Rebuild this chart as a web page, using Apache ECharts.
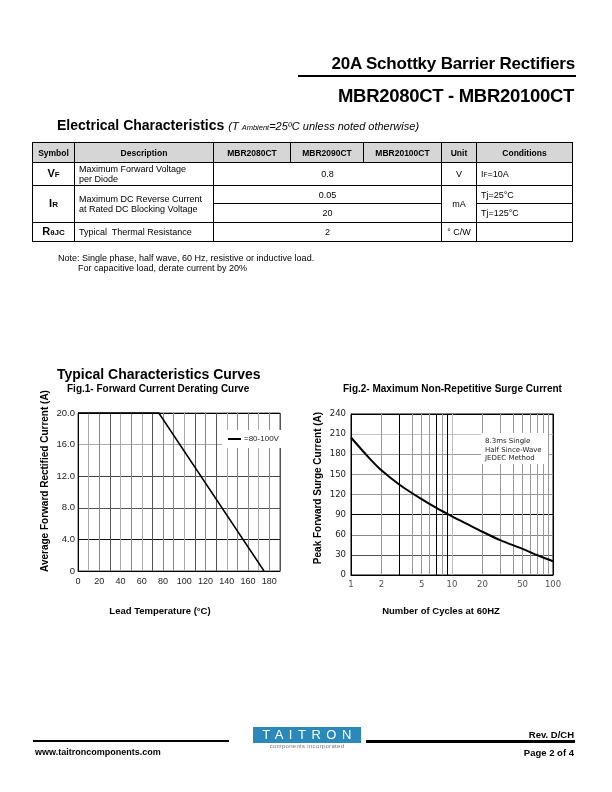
<!DOCTYPE html>
<html>
<head>
<meta charset="utf-8">
<script src="https://cdn.jsdelivr.net/npm/echarts@6/dist/echarts.min.js"></script>
<style>
  html,body{margin:0;padding:0;background:#fff;}
  #page{position:relative;width:612px;height:792px;overflow:hidden;font-family:"Liberation Sans",Arial,sans-serif;color:#000;}
  #chart{position:absolute;left:0;top:0;width:612px;height:792px;}
  .abs{position:absolute;white-space:nowrap;}
  .bar{position:absolute;background:#000;}
  table.ec{position:absolute;left:32px;top:142px;border-collapse:collapse;table-layout:fixed;width:540px;font-size:9px;}
  table.ec td{border:1px solid #000;padding:0 4px;line-height:10px;white-space:nowrap;overflow:hidden;}
  table.ec tr.h td{background:#d6d6d6;font-weight:bold;text-align:center;font-size:8.5px;}
  .c{text-align:center;}
  .sym{font-weight:bold;text-align:center;font-size:11px;}
  .sym small{font-size:8px;}
</style>
</head>
<body>
<div id="page">
  <div id="chart"></div>

  <!-- header -->
  <div class="abs" style="right:37px;top:54px;font-size:17px;font-weight:bold;letter-spacing:-0.2px;">20A Schottky Barrier Rectifiers</div>
  <div class="bar" style="left:298px;top:75px;width:278px;height:2px;"></div>
  <div class="abs" style="right:38px;top:85px;font-size:18.5px;font-weight:bold;letter-spacing:-0.3px;">MBR2080CT - MBR20100CT</div>

  <div class="abs" style="left:57px;top:117px;font-size:14px;font-weight:bold;">Electrical Characteristics <span style="font-size:11px;font-weight:normal;font-style:italic;">(T <span style="font-size:7.5px;">Ambient</span>=25ºC unless noted otherwise)</span></div>

  <table class="ec">
    <colgroup><col style="width:42px"><col style="width:139px"><col style="width:77px"><col style="width:73px"><col style="width:78px"><col style="width:35px"><col style="width:96px"></colgroup>
    <tr class="h" style="height:20px"><td>Symbol</td><td>Description</td><td>MBR2080CT</td><td>MBR2090CT</td><td>MBR20100CT</td><td>Unit</td><td>Conditions</td></tr>
    <tr style="height:23px"><td class="sym">V<small>F</small></td><td>Maximum Forward Voltage<br>per Diode</td><td colspan="3" class="c">0.8</td><td class="c">V</td><td>I<span style="font-size:6.5px">F</span>=10A</td></tr>
    <tr style="height:18px"><td class="sym" rowspan="2">I<small>R</small></td><td rowspan="2">Maximum DC Reverse Current<br>at Rated DC Blocking Voltage</td><td colspan="3" class="c">0.05</td><td class="c" rowspan="2">mA</td><td>Tj=25°C</td></tr>
    <tr style="height:19px"><td colspan="3" class="c">20</td><td>Tj=125°C</td></tr>
    <tr style="height:19px"><td class="sym">R<small>θJC</small></td><td>Typical&nbsp; Thermal Resistance</td><td colspan="3" class="c">2</td><td class="c">° C/W</td><td></td></tr>
  </table>

  <div class="abs" style="left:58px;top:253px;font-size:9px;">Note: Single phase, half wave, 60 Hz, resistive or inductive load.</div>
  <div class="abs" style="left:78px;top:263px;font-size:9px;">For capacitive load, derate current by 20%</div>

  <!-- footer -->
  <div class="bar" style="left:33px;top:740px;width:196px;height:2px;"></div>
  <div class="abs" style="left:253px;top:727px;width:108px;height:16px;background:#2a89b8;color:#fff;font-size:13px;letter-spacing:5.5px;text-align:center;line-height:16px;text-indent:5px;">TAITRON</div>
  <div class="abs" style="left:253px;top:743px;width:108px;text-align:center;font-size:6px;color:#777;letter-spacing:0.3px;">components incorporated</div>
  <div class="bar" style="left:366px;top:740px;width:209px;height:2.5px;"></div>
  <div class="abs" style="right:38px;top:729px;font-size:9.5px;font-weight:bold;">Rev. D/CH</div>
  <div class="abs" style="right:38px;top:747px;font-size:9.5px;font-weight:bold;">Page 2 of 4</div>
  <div class="abs" style="left:35px;top:747px;font-size:9px;font-weight:bold;">www.taitroncomponents.com</div>
</div>

<script>
// ---- Fig.1 data: Forward Current Derating Curve ----
const fig1Temp = [0, 76, 175];
const fig1Current = [20, 20, 0];
const fig1LegendName = '=80-100V';

// ---- Fig.2 data: Maximum Non-Repetitive Surge Current ----
const fig2Cycles = [1, 1.5, 2, 3, 5, 7, 10, 15, 20, 30, 50, 70, 100];
const fig2Surge = [205, 175, 156, 135, 113, 100, 87.5, 74, 64.5, 52, 39, 29.5, 20.5];
const fig2XTicks = [1, 2, 5, 10, 20, 50, 100];
const fig2MinorGrid = [2, 3, 4, 5, 6, 7, 8, 9, 20, 30, 40, 50, 60, 70, 80, 90];
const fig2DarkGrid = [3, 7, 9];

const narrow = '"Liberation Sans Narrow","Liberation Sans",Arial,sans-serif';
const sans = '"Liberation Sans",Arial,sans-serif';
const wide = '"DejaVu Sans",Verdana,sans-serif';

const chart = echarts.init(document.getElementById('chart'), null, {renderer: 'canvas'});

const fig1XColors = ['#000','#aaa','#888','#555','#aaa','#888','#aaa','#555','#888','#888','#aaa','#555','#888','#555','#aaa','#888','#888','#aaa','#888','#555'];

const option = {
  animation: false,
  backgroundColor: 'transparent',
  grid: [
    {left: 78, top: 413, width: 202, height: 158, show: true, borderColor: '#555', borderWidth: 1, backgroundColor: 'transparent'},
    {left: 351, top: 414, width: 202, height: 161, show: true, borderColor: '#000', borderWidth: 1, backgroundColor: 'transparent'}
  ],
  xAxis: [
    {
      type: 'value', gridIndex: 0, min: 0, max: 190, interval: 10,
      axisLine: {lineStyle: {color: '#000', width: 1}}, axisTick: {show: false},
      axisLabel: {margin: 6, fontFamily: narrow, fontSize: 9, color: '#222',
        formatter: v => (v % 20 === 0 && v <= 180) ? String(v) : ''},
      splitLine: {show: true, lineStyle: {color: fig1XColors, width: 1}}
    },
    {
      type: 'log', logBase: 10, gridIndex: 1, min: 1, max: 100,
      axisLine: {lineStyle: {color: '#000', width: 1}}, axisTick: {show: false},
      axisLabel: {show: false},
      splitLine: {show: true, lineStyle: {color: ['#000', '#bbb', '#000'], width: 1}}
    }
  ],
  yAxis: [
    {
      type: 'value', gridIndex: 0, min: 0, max: 20, interval: 4,
      axisLine: {show: true, lineStyle: {color: '#000', width: 1}}, axisTick: {show: false},
      axisLabel: {margin: 3, fontFamily: narrow, fontSize: 9.5, color: '#222',
        formatter: v => v === 0 ? '0' : v.toFixed(1)},
      splitLine: {show: true, lineStyle: {color: ['#000', '#111', '#555', '#444', '#aaa', '#000'], width: 1}}
    },
    {
      type: 'value', gridIndex: 1, min: 0, max: 240, interval: 30,
      axisLine: {show: true, lineStyle: {color: '#000', width: 1}}, axisTick: {show: false},
      axisLabel: {margin: 5, fontFamily: wide, fontSize: 8.5, color: '#222'},
      splitLine: {show: true, lineStyle: {color: ['#000', '#555', '#888', '#000', '#999', '#999', '#999', '#c4c4c4', '#000'], width: 1}}
    }
  ],
  legend: {
    data: [fig1LegendName], left: 222, top: 430, orient: 'vertical',
    backgroundColor: '#fff', padding: [5, 6, 5, 6],
    icon: 'rect', itemWidth: 13, itemHeight: 2, itemGap: 4,
    textStyle: {fontFamily: narrow, fontSize: 8, color: '#222', padding: [0, 0, 0, -2]}
  },
  series: [
    {
      name: fig1LegendName, type: 'line', xAxisIndex: 0, yAxisIndex: 0,
      data: fig1Temp.map((t, i) => [t, fig1Current[i]]),
      showSymbol: false, symbol: 'none', clip: false,
      lineStyle: {color: '#000', width: 1.5}, itemStyle: {color: '#000'}, z: 5
    },
    {
      name: 'ticks2', type: 'scatter', xAxisIndex: 1, yAxisIndex: 1,
      data: fig2XTicks.map(v => [v, 0]), symbolSize: 0, silent: true, z: 1,
      label: {show: true, position: 'bottom', distance: 5, fontFamily: wide, fontSize: 8.5, color: '#222',
        formatter: p => String(p.value[0])},
      markLine: {
        silent: true, symbol: 'none', label: {show: false}, animation: false,
        data: fig2MinorGrid.map(v => ({xAxis: v,
          lineStyle: {type: 'solid', width: 1, color: fig2DarkGrid.indexOf(v) >= 0 ? '#000' : '#999'}}))
      }
    },
    {
      name: 'surge', type: 'line', xAxisIndex: 1, yAxisIndex: 1,
      data: fig2Cycles.map((c, i) => [c, fig2Surge[i]]),
      smooth: 0.3, showSymbol: false, symbol: 'none',
      lineStyle: {color: '#000', width: 2}, z: 5
    }
  ],
  graphic: [
    {type: 'text', left: 57, top: 368, style: {text: 'Typical Characteristics Curves', font: 'bold 14px ' + sans, fill: '#000'}},
    {type: 'text', left: 67, top: 384, style: {text: 'Fig.1- Forward Current Derating Curve', font: 'bold 10px ' + sans, fill: '#000'}},
    {type: 'text', left: 343, top: 384, style: {text: 'Fig.2- Maximum Non-Repetitive Surge Current', font: 'bold 10px ' + sans, fill: '#000'}},
    {type: 'text', x: 45, y: 481, rotation: Math.PI / 2,
      style: {text: 'Average Forward Rectified Current (A)', font: 'bold 10px ' + sans, fill: '#000', align: 'center', verticalAlign: 'middle'}},
    {type: 'text', x: 160, y: 611,
      style: {text: 'Lead Temperature (°C)', font: 'bold 9.5px ' + sans, fill: '#000', align: 'center', verticalAlign: 'middle'}},
    {type: 'text', x: 318, y: 488, rotation: Math.PI / 2,
      style: {text: 'Peak Forward Surge Current (A)', font: 'bold 10px ' + sans, fill: '#000', align: 'center', verticalAlign: 'middle'}},
    {type: 'text', x: 441, y: 611,
      style: {text: 'Number of Cycles at 60HZ', font: 'bold 9.5px ' + sans, fill: '#000', align: 'center', verticalAlign: 'middle'}},
    {type: 'rect', shape: {x: 481, y: 433, width: 67, height: 31}, style: {fill: '#fff'}, z: 10},
    {type: 'text', left: 485, top: 437, z: 11,
      style: {text: '8.3ms Single\nHalf Since-Wave\nJEDEC Method', font: '7px ' + wide, lineHeight: 8.5, fill: '#222'}}
  ]
};
chart.setOption(option);
</script>
</body>
</html>
